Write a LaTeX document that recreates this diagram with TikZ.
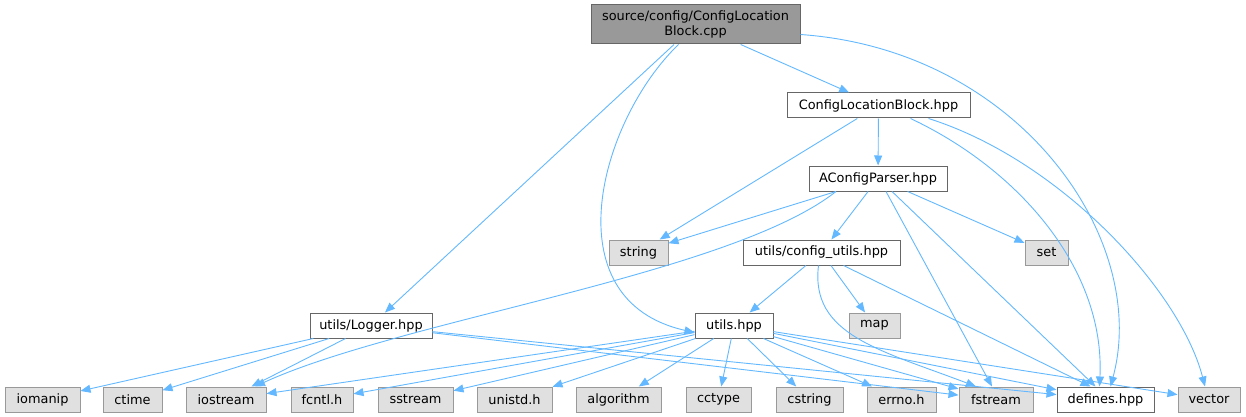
\documentclass[tikz,border=0pt]{standalone}
\usepackage{fontspec}
\setmainfont{DejaVu Sans}
\usetikzlibrary{arrows.meta}
\definecolor{edgec}{HTML}{63B8FF}
\definecolor{bordw}{HTML}{666666}
\definecolor{bordg}{HTML}{999999}
\definecolor{fillg}{HTML}{E0E0E0}
\definecolor{fillr}{HTML}{999999}
\tikzset{
  base/.style={rectangle, inner sep=0pt, minimum height=25pt, line width=1pt, font=\fontsize{12.9}{15.5}\selectfont},
  wbox/.style={base, draw=bordw, fill=white},
  gbox/.style={base, draw=bordg, fill=fillg},
  rbox/.style={base, draw=bordw, fill=fillr, align=center, minimum height=39pt},
  edge/.style={draw=edgec, line width=0.9pt, -{Triangle[length=10pt,width=8pt]}}
}
\begin{document}
\begin{tikzpicture}[x=1pt,y=-1pt]
\useasboundingbox (0,0) rectangle (1246,417);
% nodes
\node[rbox, minimum width=209pt] (root) at (695.5,24.5) {source/config/ConfigLocation\\Block.cpp};
\node[wbox, minimum width=183pt] (clb) at (878.5,105.5) {ConfigLocationBlock.hpp};
\node[wbox, minimum width=138pt] (acp) at (878,178.5) {AConfigParser.hpp};
\node[gbox, minimum width=59pt] (string) at (638.5,252.5) {string};
\node[wbox, minimum width=157pt] (cfgu) at (821.5,252.5) {utils/config\_utils.hpp};
\node[gbox, minimum width=43pt] (set) at (1046.5,252.5) {set};
\node[wbox, minimum width=78pt] (utils) at (734,325.5) {utils.hpp};
\node[gbox, minimum width=51pt] (map) at (874.5,325.5) {map};
\node[wbox, minimum width=122pt] (logger) at (371,325.5) {utils/Logger.hpp};
\node[gbox, minimum width=75pt] (iomanip) at (42.5,399.5) {iomanip};
\node[gbox, minimum width=59pt] (ctime) at (132.5,399.5) {ctime};
\node[gbox, minimum width=80pt] (iostream) at (226,399.5) {iostream};
\node[gbox, minimum width=62pt] (fcntl) at (322,399.5) {fcntl.h};
\node[gbox, minimum width=75pt] (sstream) at (415.5,399.5) {sstream};
\node[gbox, minimum width=75pt] (unistd) at (514.5,399.5) {unistd.h};
\node[gbox, minimum width=85pt] (algorithm) at (618.5,399.5) {algorithm};
\node[gbox, minimum width=65pt] (cctype) at (718.5,399.5) {cctype};
\node[gbox, minimum width=67pt] (cstring) at (809.5,399.5) {cstring};
\node[gbox, minimum width=69pt] (errno) at (901.5,399.5) {errno.h};
\node[gbox, minimum width=74pt] (fstream) at (996,399.5) {fstream};
\node[wbox, minimum width=97pt] (defines) at (1105.5,399.5) {defines.hpp};
\node[gbox, minimum width=62pt] (vector) at (1209,399.5) {vector};
% root edges
\draw[edge] (root) -- (clb);
\draw[edge] (root) -- (logger);
\draw[edge] ([xshift=-17pt]root.south) .. controls (600,120) and (550,300) .. ([yshift=-7pt]utils.west);
\draw[edge] ([yshift=-10pt]root.east) .. controls (1020,50) and (1150,240) .. ([xshift=5pt]defines.north);
% clb edges
\draw[edge] (clb) -- (acp);
\draw[edge] (clb) -- (string);
\draw[edge] ([xshift=32pt]clb.south) .. controls (1020,170) and (1105,270) .. ([xshift=-6pt]defines.north);
\draw[edge] ([xshift=50pt]clb.south) .. controls (1060,160) and (1180,290) .. ([xshift=-4pt]vector.north);
% acp edges
\draw[edge] (acp) -- (string);
\draw[edge] (acp) -- (cfgu);
\draw[edge] (acp) -- (set);
\draw[edge] ([xshift=-42pt]acp.south) .. controls (730,275) and (400,320) .. ([xshift=29pt]iostream.north);
\draw[edge] ([xshift=8pt]acp.south) -- ([xshift=-4pt]fstream.north);
\draw[edge] ([xshift=14pt]acp.south) -- ([xshift=-10pt]defines.north);
% config_utils edges
\draw[edge] (cfgu) -- (utils);
\draw[edge] (cfgu) -- (map);
\draw[edge] ([xshift=-3pt]cfgu.south) .. controls (810,335) and (880,350) .. ([xshift=-20pt]fstream.north);
\draw[edge] ([xshift=22pt]cfgu.south) -- ([xshift=-15pt]defines.north);
% utils edges
\foreach \t in {iostream,fcntl,sstream,unistd,algorithm,cctype,cstring,errno,fstream,defines,vector}
  \draw[edge] (utils) -- (\t);
% logger edges
\foreach \t in {iomanip,ctime,iostream,fstream,defines}
  \draw[edge] (logger) -- (\t);
\end{tikzpicture}
\end{document}
